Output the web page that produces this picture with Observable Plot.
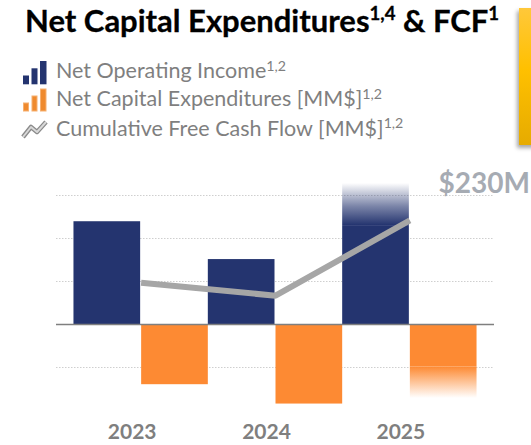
<!DOCTYPE html>
<html><head><meta charset="utf-8">
<script src="https://cdn.jsdelivr.net/npm/d3@7"></script>
<script src="https://cdn.jsdelivr.net/npm/@observablehq/plot@0.6"></script>
<style>
body{margin:0;background:#fff;}
#wrap{position:relative;width:531px;height:445px;overflow:hidden;font-family:Lato,"Open Sans",sans-serif;}
#title{position:absolute;left:25px;top:2px;font-weight:bold;font-size:31px;line-height:1.2;color:#000;white-space:nowrap;-webkit-text-stroke:0.3px #000;}
#title sup{font-size:0.6em;vertical-align:0;position:relative;top:-0.62em;line-height:0;}
.leg{position:absolute;left:0;width:531px;height:28px;font-size:21.5px;line-height:1.2;color:#7f7f7f;white-space:nowrap;}
.leg svg{position:absolute;left:21px;}
.leg span{position:absolute;left:56px;top:0;}
.leg sup{font-size:0.66em;vertical-align:0;position:relative;top:-0.5em;line-height:0;}
#box{position:absolute;left:519px;top:8px;width:30px;height:137px;background:linear-gradient(#ffc83a,#ffc000 45%,#e6ab00);box-shadow:-2px 3px 4px rgba(0,0,0,0.35);}
#chart{position:absolute;left:0;top:150px;}
</style></head><body>
<div id="wrap">
  <div id="title">Net Capital Expenditures<sup>1,4</sup> &amp; FCF<sup>1</sup></div>
  <div class="leg" style="top:58px">
    <svg width="28" height="26" style="top:3px"><rect x="2" y="14.5" width="6" height="8.8" fill="#24346f"/><rect x="10.5" y="7.3" width="6" height="16" fill="#24346f"/><rect x="19" y="0" width="6.5" height="23.3" fill="#24346f"/></svg>
    <span>Net Operating Income<sup>1,2</sup></span>
  </div>
  <div class="leg" style="top:86px">
    <svg width="28" height="26" style="top:2px"><rect x="2.5" y="15" width="5" height="8" fill="#ef8a2e" stroke="#f6b070" stroke-width="1"/><rect x="11" y="8" width="5" height="15" fill="#ef8a2e" stroke="#f6b070" stroke-width="1"/><rect x="19.5" y="1" width="5.5" height="22" fill="#ef8a2e" stroke="#f6b070" stroke-width="1"/></svg>
    <span>Net Capital Expenditures [MM$]<sup>1,2</sup></span>
  </div>
  <div class="leg" style="top:115.5px">
    <svg width="28" height="26" style="top:3px"><polyline points="2,18 10,8 16,13 25,3" fill="none" stroke="#8a8a8a" stroke-width="4.5" stroke-linejoin="round"/><polyline points="2,18 10,8 16,13 25,3" fill="none" stroke="#d8d8d8" stroke-width="2" stroke-linejoin="round"/></svg>
    <span>Cumulative Free Cash Flow [MM$]<sup>1,2</sup></span>
  </div>
  <div id="box"></div>
  <div id="chart"></div>
</div>
<script>
// Data (MM$)
const years = [2023, 2024, 2025];
const netOperatingIncome = [239, 151, 230];
const netOperatingIncomeUpside = [null, null, 328];   // faded extension above the 2025 bar
const netCapitalExpenditures = [-140, -185, -99];
const netCapitalExpendituresUpside = [null, null, -172]; // faded extension below the 2025 bar
const cumulativeFreeCashFlow = [97, 67, 242];
const gridValues = [-100, 100, 200, 300];
const annotationText = ["$230M"];

const navy = "#24346f";
const orange = "#fd8a33";

const rows = years.map((year, i) => ({
  year,
  noi: netOperatingIncome[i],
  noiHi: netOperatingIncomeUpside[i],
  capex: netCapitalExpenditures[i],
  capexLo: netCapitalExpendituresUpside[i],
  fcf: cumulativeFreeCashFlow[i]
}));

const defs = () => {
  const d = d3.create("svg:defs");
  const up = d.append("linearGradient").attr("id", "fadeUp").attr("x1", 0).attr("y1", 1).attr("x2", 0).attr("y2", 0);
  up.append("stop").attr("offset", 0).attr("stop-color", navy).attr("stop-opacity", 1);
  up.append("stop").attr("offset", 0.45).attr("stop-color", navy).attr("stop-opacity", 0.6);
  up.append("stop").attr("offset", 1).attr("stop-color", navy).attr("stop-opacity", 0);
  const dn = d.append("linearGradient").attr("id", "fadeDown").attr("x1", 0).attr("y1", 0).attr("x2", 0).attr("y2", 1);
  dn.append("stop").attr("offset", 0).attr("stop-color", orange).attr("stop-opacity", 1);
  dn.append("stop").attr("offset", 0.4).attr("stop-color", orange).attr("stop-opacity", 0.6);
  dn.append("stop").attr("offset", 1).attr("stop-color", orange).attr("stop-opacity", 0);
  return d.node();
};

const chart = Plot.plot({
  width: 531,
  height: 295,
  marginLeft: 56,
  marginRight: 37,
  marginTop: 19.2,
  marginBottom: 39.3,
  style: {fontFamily: "Lato, 'Open Sans', sans-serif", background: "transparent", overflow: "visible"},
  x: {domain: [2022.37, 2025.63], axis: null},
  y: {domain: [-190, 360], axis: null},
  marks: [
    defs,
    Plot.ruleY(gridValues, {stroke: "#cfcfcf", strokeWidth: 1, strokeDasharray: "1.5,1.5"}),
    Plot.rect(rows, {x1: d => d.year - 0.5, x2: d => d.year, y1: 0, y2: "noi", fill: navy, insetRight: 0.5}),
    Plot.rect(rows.filter(d => d.noiHi != null), {x1: d => d.year - 0.5, x2: d => d.year, y1: "noi", y2: "noiHi", fill: "url(#fadeUp)", insetRight: 0.5}),
    Plot.rect(rows, {x1: d => d.year, x2: d => d.year + 0.5, y1: 0, y2: "capex", fill: orange, insetLeft: 0.5}),
    Plot.rect(rows.filter(d => d.capexLo != null), {x1: d => d.year, x2: d => d.year + 0.5, y1: "capex", y2: "capexLo", fill: "url(#fadeDown)", insetLeft: 0.5}),
    Plot.ruleY([0], {stroke: "#7f7f7f", strokeWidth: 1.3}),
    Plot.line(rows, {x: "year", y: "fcf", stroke: "#a6a6a6", strokeWidth: 6, strokeLinecap: "butt", strokeLinejoin: "miter"}),
    Plot.text(years, {x: d => d, text: d => String(d), frameAnchor: "bottom", lineAnchor: "bottom", dy: 32.3, dx: -9, fontSize: 21, fontWeight: "bold", fill: "#7f7f7f"}),
    Plot.text(annotationText, {text: d => d, frameAnchor: "top-right", textAnchor: "start", lineAnchor: "bottom", dx: -56, dy: 23.5, fontSize: 28, fontWeight: "bold", fill: "#a6abb3"})
  ]
});
document.getElementById("chart").appendChild(chart);
</script>
</body></html>
